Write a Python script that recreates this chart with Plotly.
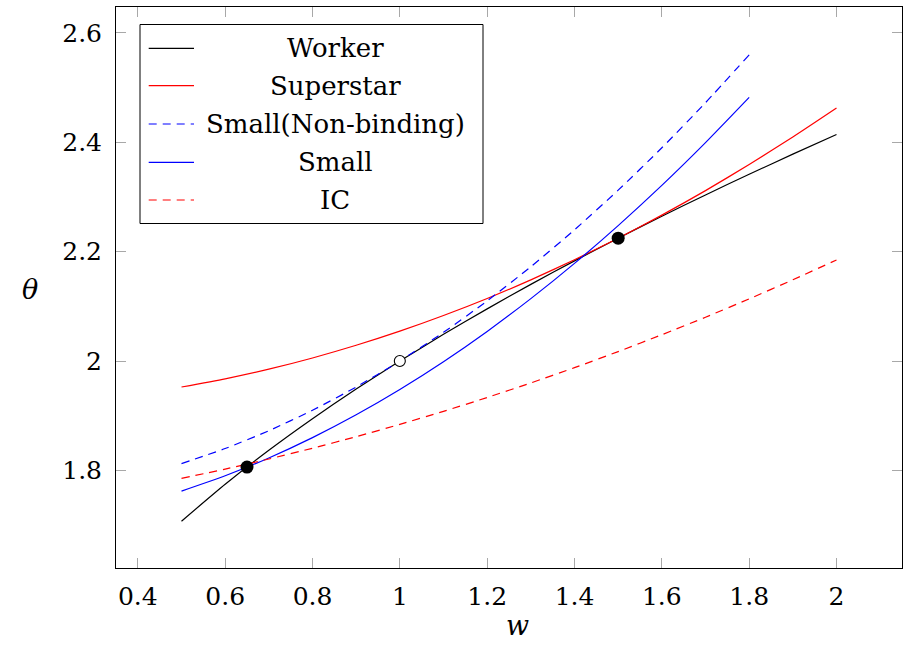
import plotly.graph_objects as go

# Wage grid and the curves theta(w) for each type
w_full = [0.5, 0.6, 0.7, 0.8, 0.9, 1.0, 1.1, 1.2, 1.3, 1.4, 1.5, 1.6, 1.7, 1.8, 1.9, 2.0]
w_short = [0.5, 0.6, 0.7, 0.8, 0.9, 1.0, 1.1, 1.2, 1.3, 1.4, 1.5, 1.6, 1.7, 1.8]

worker = [1.7071, 1.7746, 1.8367, 1.8944, 1.9487, 2.0, 2.0488, 2.0954,
          2.1402, 2.1832, 2.2247, 2.2649, 2.3038, 2.3416, 2.3784, 2.4142]
superstar = [1.9525, 1.9675, 1.9851, 2.0056, 2.0288, 2.0546, 2.0832, 2.1144,
             2.1485, 2.1853, 2.2247, 2.2669, 2.3117, 2.3594, 2.4098, 2.4628]
small_nonbinding = [1.8125, 1.84, 1.8725, 1.91, 1.9525, 2.0, 2.0525, 2.11,
                    2.1725, 2.24, 2.3125, 2.39, 2.4725, 2.56]
small = [1.7622, 1.7902, 1.8228, 1.8600, 1.9017, 1.9480, 1.9988, 2.0542,
         2.1141, 2.1786, 2.2477, 2.3212, 2.3994, 2.4821]
ic = [1.7854, 1.8024, 1.8208, 1.8405, 1.8617, 1.8842, 1.9080, 1.9333,
      1.9600, 1.9879, 2.0173, 2.0481, 2.0801, 2.1137, 2.1486, 2.1849]

# Highlighted points
filled_w = [0.65, 1.5]
filled_theta = [1.806, 2.2247]
open_w = [1.0]
open_theta = [2.0]

x_ticks = [0.4, 0.6, 0.8, 1.0, 1.2, 1.4, 1.6, 1.8, 2.0]
x_tick_text = ["0.4", "0.6", "0.8", "1", "1.2", "1.4", "1.6", "1.8", "2"]
y_ticks = [1.8, 2.0, 2.2, 2.4, 2.6]
y_tick_text = ["1.8", "2", "2.2", "2.4", "2.6"]

legend_labels = ["Worker", "Superstar", "Small(Non-binding)", "Small", "IC"]
legend_colors = ["black", "red", "blue", "blue", "red"]
legend_dash = ["solid", "solid", "dash", "solid", "dash"]

FONT = "DejaVu Serif"
LW = 1.2
DASH = "8px,6px"

fig = go.Figure()

series = [
    (w_full, worker, "black", "solid"),
    (w_full, superstar, "red", "solid"),
    (w_short, small_nonbinding, "blue", DASH),
    (w_short, small, "blue", "solid"),
    (w_full, ic, "red", DASH),
]
for xs, ys, color, dash in series:
    fig.add_trace(go.Scatter(x=xs, y=ys, mode="lines",
                             line=dict(color=color, width=LW, dash=dash, shape="spline", smoothing=0.6),
                             showlegend=False, hoverinfo="skip"))

fig.add_trace(go.Scatter(x=filled_w, y=filled_theta, mode="markers",
                         marker=dict(color="black", size=13),
                         showlegend=False, hoverinfo="skip"))
fig.add_trace(go.Scatter(x=open_w, y=open_theta, mode="markers",
                         marker=dict(color="white", size=11, line=dict(color="black", width=1.1)),
                         showlegend=False, hoverinfo="skip"))

# Plot area in pixels
L, R, T, B = 116, 902, 7, 568
W, H = 907, 649


def px(x):
    return (x - L) / (R - L)


def py(y):
    return (B - y) / (B - T)


shapes = []
annotations = []

# Legend box
shapes.append(dict(type="rect", xref="paper", yref="paper",
                   x0=px(140), x1=px(483), y0=py(223.5), y1=py(24.5),
                   line=dict(color="black", width=1), fillcolor="white", layer="above"))
rows = [48.3, 85.7, 124, 162.3, 200]
for label, color, dash, ry in zip(legend_labels, legend_colors, legend_dash, rows):
    shapes.append(dict(type="line", xref="paper", yref="paper",
                       x0=px(148.7), x1=px(194), y0=py(ry), y1=py(ry),
                       line=dict(color=color, width=LW, dash=DASH if dash == "dash" else "solid"),
                       layer="above"))
    annotations.append(dict(text=label, xref="paper", yref="paper",
                            x=px(335), y=py(ry), xanchor="center", yanchor="middle",
                            showarrow=False, font=dict(family=FONT, size=26, color="black")))

# Axis titles
annotations.append(dict(text="<i>w</i>", xref="paper", yref="paper",
                        x=px(517), y=py(625), xanchor="center", yanchor="middle",
                        showarrow=False, font=dict(family=FONT, size=27, color="black")))
annotations.append(dict(text="<i>θ</i>", xref="paper", yref="paper",
                        x=px(30), y=py(290), xanchor="center", yanchor="middle",
                        showarrow=False, font=dict(family=FONT, size=27, color="black")))

axis_common = dict(showgrid=False, zeroline=False, showline=True, linecolor="black",
                   linewidth=1, mirror="allticks", ticks="inside", ticklen=10,
                   tickcolor="#a8a8a8", tickwidth=1,
                   tickfont=dict(family=FONT, size=25, color="black"))

fig.update_layout(
    width=W, height=H,
    margin=dict(l=L, r=W - R, t=T, b=H - B),
    paper_bgcolor="white", plot_bgcolor="white",
    xaxis=dict(range=[0.35, 2.15], tickvals=x_ticks, ticktext=x_tick_text,
               ticklabelstandoff=6, **axis_common),
    yaxis=dict(range=[1.6215, 2.6475], tickvals=y_ticks, ticktext=y_tick_text,
               ticklabelstandoff=8, **axis_common),
    shapes=shapes,
    annotations=annotations,
)

fig.write_html("out.html")
